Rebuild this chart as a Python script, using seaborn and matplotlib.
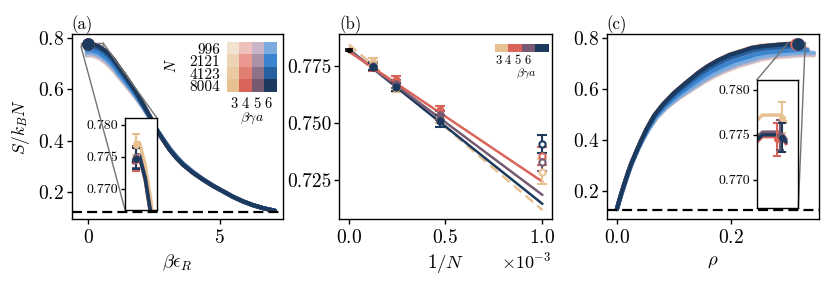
import numpy as np
import pandas as pd
import matplotlib
matplotlib.use("Agg")
import matplotlib.pyplot as plt
import seaborn as sns
from matplotlib.colors import to_rgb
from matplotlib.ticker import FormatStrFormatter
from mpl_toolkits.axes_grid1.inset_locator import mark_inset

# ---------------- data ----------------
N_VALUES = [996, 2121, 4123, 8004]
GAMMA_VALUES = [3, 4, 5, 6]          # beta*gamma*a
COLORS = [                           # rows: N, columns: beta gamma a
    ["#F2E2D0", "#EFBFBB", "#C9B5C8", "#7BAADC"],
    ["#EED4B7", "#E9978F", "#AA91A8", "#3B84CF"],
    ["#EBC9A3", "#E27F75", "#8D7189", "#2561A0"],
    ["#E8C192", "#D9655A", "#765A72", "#1B3A5E"],
]

# entropy per particle at beta*eps_R = 0 (panel b points), rows N, cols beta gamma a
S_TOP = [
    [0.7287, 0.7355, 0.7330, 0.7408],
    [0.7526, 0.7555, 0.7533, 0.7508],
    [0.7652, 0.7687, 0.7670, 0.7659],
    [0.7769, 0.7745, 0.7750, 0.7747],
]
S_ERR = [
    [0.0055, 0.0040, 0.0040, 0.0038],
    [0.0025, 0.0018, 0.0020, 0.0026],
    [0.0018, 0.0017, 0.0017, 0.0018],
    [0.0017, 0.0018, 0.0017, 0.0016],
]
INV_N = [1 / 996, 1 / 2121, 1 / 4123, 1 / 8004]
FIT_INTERCEPT = [0.7844, 0.7813, 0.7820, 0.7823]
FIT_SLOPE = [-72.3, -56.8, -63.3, -67.5]
FIT_X = [0.0, 1.004e-3]
EXTRAP_S = 0.7820
EXTRAP_ERR = 0.0005

# reference curve (N = 8004, beta gamma a = 6)
BETA_EPS = [-0.06, 0.0, 0.1, 0.25, 0.4, 0.5, 0.65, 0.82, 1.0, 1.15, 1.33, 1.6, 1.84,
            2.1, 2.34, 2.6, 2.85, 3.1, 3.35, 3.61, 4.0, 4.37, 4.75, 5.13, 5.5, 5.89,
            6.25, 6.65, 7.09]
S_BASE = [0.7742, 0.7750, 0.7750, 0.7715, 0.7658, 0.759, 0.748, 0.732, 0.710, 0.687,
          0.662, 0.622, 0.584, 0.538, 0.494, 0.442, 0.402, 0.364, 0.333, 0.306,
          0.274, 0.248, 0.224, 0.203, 0.182, 0.164, 0.150, 0.138, 0.128]
RHO_BASE = [0.3215, 0.3180, 0.3050, 0.2820, 0.2540, 0.236, 0.221, 0.198, 0.177, 0.159,
            0.143, 0.121, 0.101, 0.081, 0.0655, 0.0525, 0.044, 0.0364, 0.0306, 0.0255,
            0.0203, 0.0165, 0.013, 0.010, 0.0072, 0.0049, 0.003, 0.0016, 0.0004]
# how much of the finite-size gap at the top remains along beta*eps_R
SPREAD = [1, 1, 1, 1, 1, 1, 1, 1, 0.95, 0.88, 0.8, 0.65, 0.5, 0.3, 0.15, 0, -0.1,
          -0.15, -0.15, -0.12, -0.08, -0.05, -0.02, 0, 0, 0, 0, 0, 0]
RHO_SCALE = [1.075, 1.04, 1.018, 1.0]   # per N, end density stretch
RHO_POINT = [0.3185, 0.3150, 0.3170, 0.3185]
S_GROUND = 0.123

# ---------------- style ----------------
sns.set_theme(style="ticks")
plt.rcParams.update({
    "font.family": "cmr10",
    "mathtext.fontset": "cm",
    "axes.formatter.use_mathtext": True,
    "axes.unicode_minus": False,
    "font.size": 11,
    "axes.linewidth": 1.0,
    "axes.edgecolor": "black",
    "axes.labelcolor": "black",
    "text.color": "black",
    "xtick.color": "black",
    "ytick.color": "black",
    "xtick.major.width": 1.0,
    "ytick.major.width": 1.0,
    "xtick.major.size": 3.5,
    "ytick.major.size": 3.5,
    "ytick.major.pad": 2.0,
    "xtick.labelsize": 14,
    "ytick.labelsize": 14,
    "axes.labelsize": 13.5,
})

W, H = 831, 284
fig = plt.figure(figsize=(W / 100, H / 100), dpi=100)


def px_axes(x0, y0, x1, y1):
    return fig.add_axes([x0 / W, 1 - y1 / H, (x1 - x0) / W, (y1 - y0) / H])


axA = px_axes(71.7, 34.3, 283.3, 219)
axB = px_axes(339.3, 34.3, 551.7, 219)
axC = px_axes(606.7, 34.3, 819.3, 219)

be = np.array(BETA_EPS)
sb = np.array(S_BASE)
rb = np.array(RHO_BASE)
sp = np.array(SPREAD)
ref = S_TOP[3][3]

curves = []
for j in range(4):
    for i in range(4):
        s = sb + (S_TOP[i][j] - ref) * sp
        r = rb * RHO_SCALE[i]
        curves.append((i, COLORS[i][j], s, r))

# ---------------- panel (a) ----------------
for i, c, s, r in curves:
    sns.lineplot(x=be, y=s, color=c, lw=3, sort=False, estimator=None, ax=axA)
for j in range(4):
    axA.plot([0.0], [S_TOP[3][j]], "o", ms=8, color=COLORS[3][j], zorder=5)
axA.axhline(S_GROUND, color="black", lw=1.6, dashes=(4.5, 2.3), zorder=6)
axA.set_xlim(-0.63, 7.41)
axA.set_ylim(0.096, 0.813)
axA.set_xticks([0, 5])
axA.set_yticks([0.2, 0.4, 0.6, 0.8])
axA.set_xlabel(r"$\beta\epsilon_R$")
axA.set_ylabel(r"$S/k_BN$", labelpad=4, fontsize=12.5)
axA.set_title("(a)", loc="left", fontsize=12, pad=1.5)

insA = px_axes(125, 117.7, 156.7, 209.7)
for i, c, s, r in curves:
    if i == 3:
        sns.lineplot(x=be, y=s, color=c, lw=2.5, sort=False, estimator=None, ax=insA)
for j in range(4):
    insA.errorbar([0.0], [S_TOP[3][j]], yerr=[S_ERR[3][j]], fmt="o", ms=4,
                  color=COLORS[3][j], capsize=3, elinewidth=1.5, capthick=1.5, zorder=5)
insA.set_xlim(-0.28, 0.55)
insA.set_ylim(0.7667, 0.7811)
insA.set_xticks([])
insA.set_yticks([0.770, 0.775, 0.780])
insA.yaxis.set_major_formatter(FormatStrFormatter("%.3f"))
insA.tick_params(labelsize=10, length=3, pad=2)
insA.set_xlabel("")
insA.set_ylabel("")
mark_inset(axA, insA, loc1=1, loc2=3, fc="none", ec="0.45", lw=1.0)

# colour grid legend
legA = px_axes(227.3, 42.3, 277.3, 91.7)
rgb = np.array([[to_rgb(c) for c in row] for row in COLORS])
legA.imshow(rgb, aspect="auto")
legA.set_xticks([])
legA.set_yticks(range(4))
legA.set_yticklabels([str(n) for n in N_VALUES], fontsize=11)
legA.tick_params(length=0, pad=5)
for spn in legA.spines.values():
    spn.set_visible(False)
gamma_txt = r"$" + r"\ ".join(str(g) for g in GAMMA_VALUES) + r"$"
fig.text(251.5 / W, 1 - 103.5 / H, gamma_txt, ha="center", va="center", fontsize=10.5)
fig.text(251.7 / W, 1 - 118.5 / H, r"$\beta\gamma a$", ha="center", va="center", fontsize=10)
fig.text(172 / W, 1 - 66 / H, r"$N$", rotation=90, ha="center", va="center", fontsize=10.5)

# ---------------- panel (b) ----------------
fit_x = np.linspace(FIT_X[0], FIT_X[1], 2)
order = [0, 3, 2, 1]
for j in order:
    fit = pd.DataFrame({"x": fit_x, "y": FIT_INTERCEPT[j] + FIT_SLOPE[j] * fit_x})
    sns.lineplot(data=fit, x="x", y="y", color=COLORS[3][j], lw=1.8, ax=axB)
    if j == 0:
        axB.lines[-1].set_dashes((4.0, 2.2))
for j in range(4):
    for i in range(4):
        open_m = (i == 0)
        axB.errorbar([INV_N[i]], [S_TOP[i][j]], yerr=[S_ERR[i][j]], fmt="o",
                     ms=4.5, color=COLORS[3][j],
                     mfc=("white" if open_m else COLORS[3][j]), mew=1.5,
                     capsize=3.5, elinewidth=1.5, capthick=1.5, zorder=4)
axB.errorbar([0.0], [EXTRAP_S], yerr=[EXTRAP_ERR], fmt="o", ms=3, color="black",
             capsize=3, elinewidth=1.2, capthick=1.2, zorder=5)
axB.set_xlim(-0.05e-3, 1.052e-3)
axB.set_ylim(0.7079, 0.7889)
axB.set_xticks([0, 0.5e-3, 1.0e-3])
axB.set_yticks([0.725, 0.750, 0.775])
axB.yaxis.set_major_formatter(FormatStrFormatter("%.3f"))
axB.ticklabel_format(axis="x", style="sci", scilimits=(0, 0))
axB.xaxis.get_offset_text().set_fontsize(13)
axB.set_xlabel(r"$1/N$")
axB.set_ylabel("")
axB.set_title("(b)", loc="left", fontsize=12, pad=1.5)

legB = px_axes(495, 44, 549, 52.3)
legB.imshow(rgb[3:4], aspect="auto")
legB.axis("off")
fig.text(514 / W, 1 - 59.5 / H, gamma_txt, ha="center", va="center", fontsize=9)
fig.text(526 / W, 1 - 74 / H, r"$\beta\gamma a$", ha="center", va="center", fontsize=8.5)

# ---------------- panel (c) ----------------
for i, c, s, r in curves:
    sns.lineplot(x=r, y=s, color=c, lw=3, sort=False, estimator=None, ax=axC)
for j in range(4):
    axC.plot([RHO_POINT[j]], [S_TOP[3][j]], "o", ms=8, color=COLORS[3][j], zorder=5)
axC.axhline(S_GROUND, color="black", lw=1.6, dashes=(4.5, 2.3), zorder=6)
axC.set_xlim(-0.0175, 0.355)
axC.set_ylim(0.089, 0.813)
axC.set_xticks([0.0, 0.2])
axC.set_yticks([0.2, 0.4, 0.6, 0.8])
axC.set_xlabel(r"$\rho$")
axC.set_ylabel("")
axC.set_title("(c)", loc="left", fontsize=12, pad=1.5)

insC = px_axes(756.7, 80, 798.3, 207.7)
for i, c, s, r in curves:
    if i == 3:
        sns.lineplot(x=r, y=s, color=c, lw=2.5, sort=False, estimator=None, ax=insC)
for j in range(4):
    insC.errorbar([RHO_POINT[j]], [S_TOP[3][j]], yerr=[S_ERR[3][j]], fmt="o", ms=4,
                  color=COLORS[3][j], capsize=3, elinewidth=1.5, capthick=1.5, zorder=5)
insC.set_xlim(0.301, 0.330)
insC.set_ylim(0.7669, 0.7811)
insC.set_xticks([])
insC.set_yticks([0.770, 0.775, 0.780])
insC.yaxis.set_major_formatter(FormatStrFormatter("%.3f"))
insC.tick_params(labelsize=10, length=3, pad=2)
insC.set_xlabel("")
insC.set_ylabel("")
mark_inset(axC, insC, loc1=2, loc2=4, fc="none", ec="0.45", lw=1.0)

fig.savefig("out.png", dpi=100)
